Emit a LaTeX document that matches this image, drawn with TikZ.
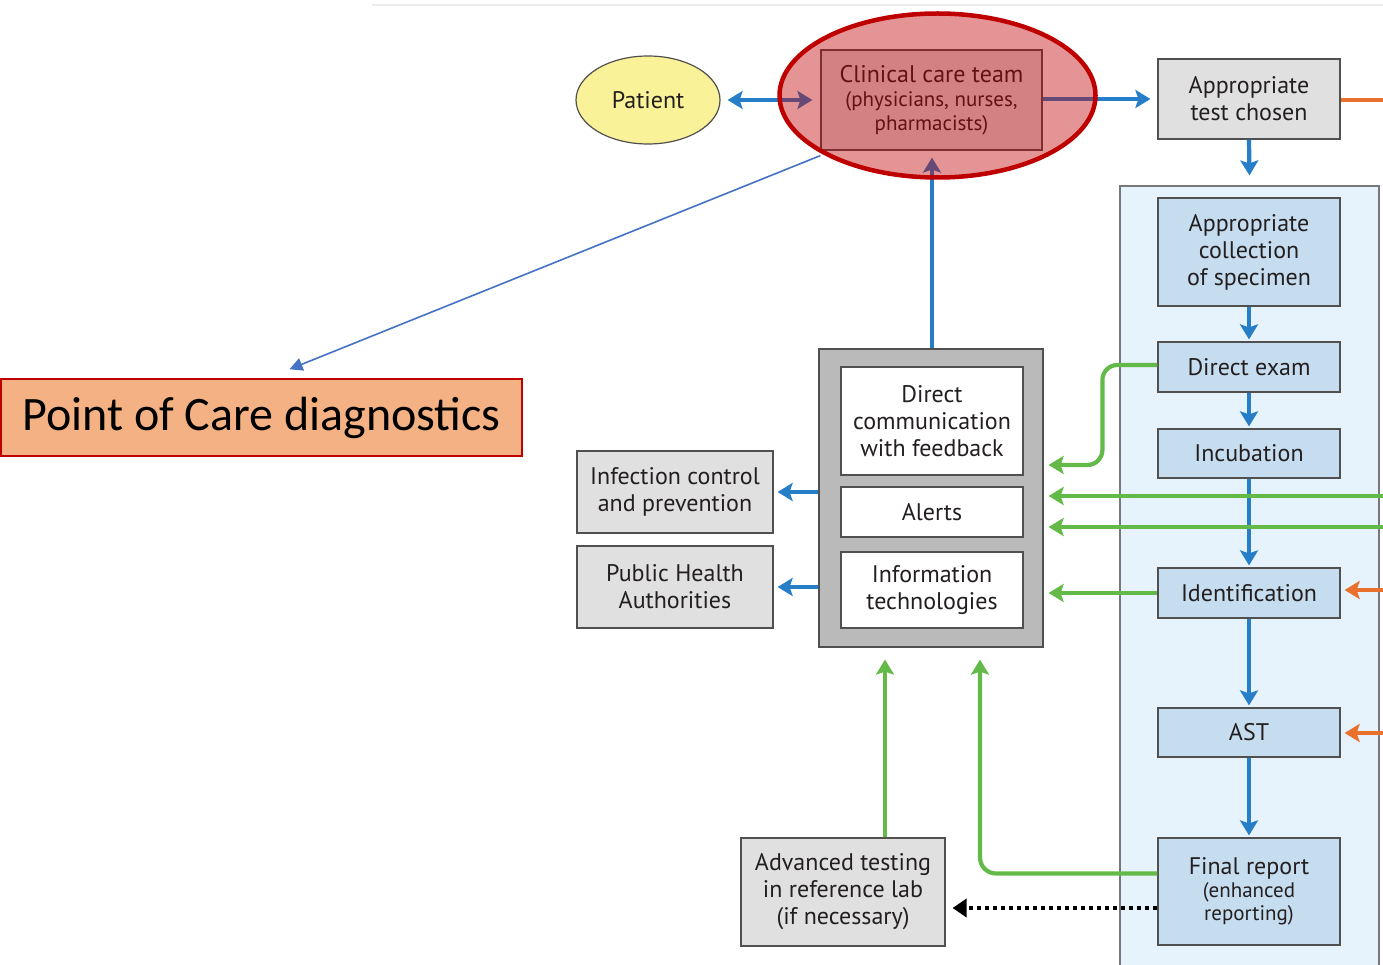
\documentclass[tikz,border=0pt]{standalone}
\usepackage{fontspec}
\setmainfont{PT Sans}
\newfontfamily\calibri{Carlito}
\usetikzlibrary{arrows.meta,shapes.geometric,calc}

\definecolor{txt}{RGB}{35,31,32}
\definecolor{edge}{RGB}{80,80,80}
\definecolor{labedge}{RGB}{120,120,120}
\definecolor{rule}{RGB}{236,236,236}
\definecolor{flowblue}{RGB}{38,126,200}
\definecolor{flowgreen}{RGB}{100,186,72}
\definecolor{floworange}{RGB}{233,113,43}
\definecolor{boxgray}{RGB}{224,224,224}
\definecolor{framegray}{RGB}{186,186,186}
\definecolor{stepblue}{RGB}{198,221,240}
\definecolor{labblue}{RGB}{230,242,252}
\definecolor{patientyellow}{RGB}{250,242,152}
\definecolor{hlred}{RGB}{191,0,0}
\definecolor{pocfill}{RGB}{244,177,131}
\definecolor{pocline}{RGB}{68,114,196}

\newcommand{\smalltxt}{\fontsize{21}{25}\selectfont}

\tikzset{
  x=1pt, y=-1pt,
  base/.style={draw=edge, line width=1.2pt, text=txt, align=center,
    inner sep=0pt, font=\fontsize{24}{27}\selectfont},
  graybox/.style={base, rectangle, fill=boxgray},
  whitebox/.style={base, rectangle, fill=white},
  stepbox/.style={base, rectangle, fill=stepblue},
  tip/.tip={Stealth[length=15pt,width=18pt,inset=3pt]},
  head/.style={-tip},
  bluearr/.style={draw=flowblue, line width=4.2pt, head},
  greenarr/.style={draw=flowgreen, line width=4.2pt, head},
  orangearr/.style={draw=floworange, line width=4.2pt, head},
}

\begin{document}
\begin{tikzpicture}
\path[use as bounding box] (0,0) rectangle (1383,965);
\clip (0,0) rectangle (1383,965);

% faint rule along the top
\draw[line width=2pt, rule] (372,5) -- (1383,5);

% microbiology laboratory column
\node[base, fill=labblue, draw=labedge, minimum width=259pt, minimum height=800pt]
  (lab) at (1249.5,586) {};

% nodes
\node[base, ellipse, fill=patientyellow, minimum width=144pt, minimum height=88pt] (patient) at (648,100) {Patient};
\node[graybox, minimum width=221pt, minimum height=100pt] (clinical) at (931.5,100)
  {Clinical care team\\[-3pt]{\smalltxt (physicians, nurses,}\\[-3pt]{\smalltxt pharmacists)}};
\node[graybox, minimum width=182pt, minimum height=80pt] (test) at (1249,99) {Appropriate\\test chosen};

\node[stepbox, minimum width=182pt, minimum height=108pt] (specimen) at (1249,252) {Appropriate\\collection\\of specimen};
\node[stepbox, minimum width=182pt, minimum height=50pt] (direct) at (1249,367) {Direct exam};
\node[stepbox, minimum width=182pt, minimum height=49pt] (incub) at (1249,453.5) {Incubation};
\node[stepbox, minimum width=182pt, minimum height=50pt] (ident) at (1249,593) {Identification};
\node[stepbox, minimum width=182pt, minimum height=49pt] (ast) at (1249,732.5) {AST};
\node[stepbox, minimum width=182pt, minimum height=107pt] (final) at (1249,891.5)
  {Final report\\[-4pt]{\smalltxt (enhanced}\\[-4pt]{\smalltxt reporting)}};

\node[base, fill=framegray, minimum width=224pt, minimum height=298pt] (comm) at (931,498) {};
\node[whitebox, minimum width=182pt, minimum height=108pt] (feedback) at (932,421) {Direct\\communication\\with feedback};
\node[whitebox, minimum width=182pt, minimum height=50pt] (alerts) at (932,512) {Alerts};
\node[whitebox, minimum width=182pt, minimum height=76pt] (infotech) at (932,590) {Information\\technologies};

\node[graybox, minimum width=196pt, minimum height=82pt] (infection) at (675,492) {Infection control\\and prevention};
\node[graybox, minimum width=196pt, minimum height=82pt] (public) at (675,587) {Public Health\\Authorities};
\node[graybox, minimum width=204pt, minimum height=108pt] (advanced) at (843,892)
  {Advanced testing\\in reference lab\\(if necessary)};

\node[draw=hlred, line width=1.5pt, fill=pocfill, minimum width=521pt, minimum height=77pt, inner sep=0pt,
  font=\calibri\fontsize{48}{54}\selectfont] (poc) at (261.5,417.5) {Point of Care diagnostics};

% free ends at the page edge
\coordinate (edgeTop) at (1383,100);
\coordinate (edgeA) at (1383,496);
\coordinate (edgeB) at (1383,527);
\coordinate (edgeId) at (1383,590);
\coordinate (edgeAst) at (1383,733);
\coordinate (gtip) at ([yshift=-12pt]comm.south);

% blue flow
\draw[bluearr, tip-tip] ([xshift=7pt]patient.east) -- ([xshift=-8pt]clinical.west);
\draw[bluearr] (clinical.east |- test.west) -- ([xshift=-7pt]test.west);
\draw[bluearr] (comm.north -| feedback.north) -- ([yshift=-7pt]clinical.south -| feedback.north);
\draw[bluearr] (test.south) -- ([yshift=10pt]lab.north);
\draw[bluearr] (specimen.south) -- ([yshift=2pt]direct.north);
\draw[bluearr] (direct.south) -- ([yshift=2pt]incub.north);
\draw[bluearr] (incub.south) -- ([yshift=2pt]ident.north);
\draw[bluearr] (ident.south) -- ([yshift=2pt]ast.north);
\draw[bluearr] (ast.south) -- ([yshift=2pt]final.north);
\draw[bluearr] (comm.west |- infection.east) -- ([xshift=4pt]infection.east);
\draw[bluearr] (comm.west |- public.east) -- ([xshift=4pt]public.east);

% orange inputs
\draw[draw=floworange, line width=4.2pt] (test.east |- edgeTop) -- (edgeTop);
\draw[orangearr] (edgeId) -- ([xshift=4pt]ident.east |- edgeId);
\draw[orangearr] (edgeAst) -- ([xshift=4pt]ast.east |- edgeAst);

% green feedback
\draw[greenarr, rounded corners=15pt] ([yshift=2pt]direct.west) -- ++(-55,0) |- ([xshift=5pt]comm.east |- 0,465);
\draw[greenarr] (edgeA) -- ([xshift=5pt]comm.east |- edgeA);
\draw[greenarr] (edgeB) -- ([xshift=5pt]comm.east |- edgeB);
\draw[greenarr] (ident.west) -- ([xshift=5pt]comm.east |- ident.west);
\draw[greenarr, rounded corners=16pt] ([yshift=18pt]final.west) -| ([xshift=49pt]gtip);
\draw[greenarr] ([xshift=42pt]advanced.north) -- ([xshift=42pt]advanced.north |- gtip);

% referral to reference lab
\draw[line width=4.5pt, dash pattern=on 4.5pt off 3.5pt, -{Triangle[length=14pt,width=18pt]}]
  ([yshift=-16.5pt]final.west) -- ([xshift=7pt]advanced.east |- 0,908);

% pointer to the point-of-care label
\draw[draw=pocline, line width=1.6pt, -{Triangle[length=13pt,width=13pt]}]
  ([yshift=-5pt]clinical.south west) -- ([xshift=28pt,yshift=9pt]poc.north);

% highlight around the clinical team
\node[ellipse, draw=hlred, line width=4.5pt, fill=hlred, fill opacity=0.42, draw opacity=1,
  minimum width=316pt, minimum height=164pt, inner sep=0pt] (hl) at (937.5,95.5) {};
\end{tikzpicture}
\end{document}
